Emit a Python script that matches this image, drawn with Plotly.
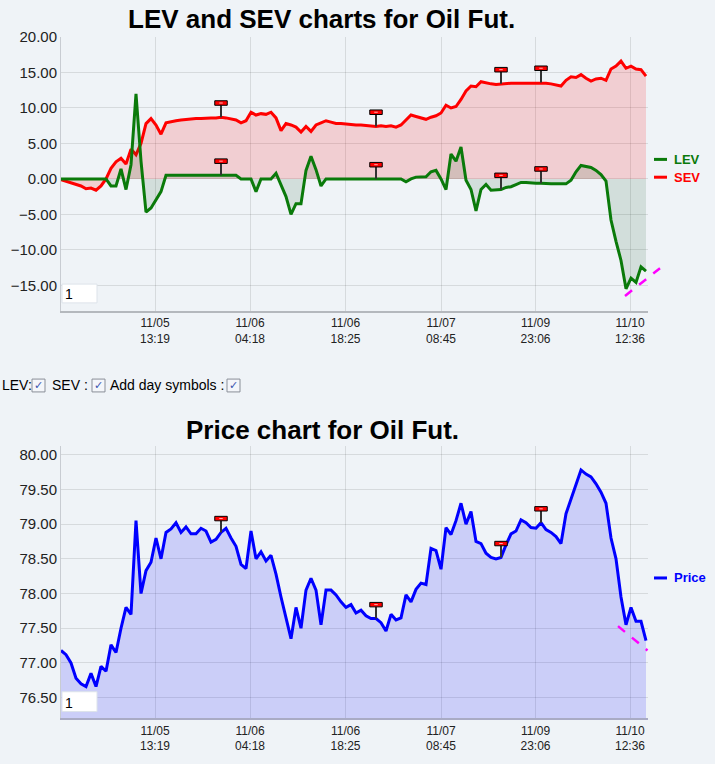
import plotly.graph_objects as go

W, H = 715, 764

# one sample every few minutes of trading, index = sample number
tick_pos = [18.8, 37.8, 56.9, 76.0, 94.9, 113.8]
tick_text = ["11/05<br>13:19", "11/06<br>04:18", "11/06<br>18:25",
             "11/07<br>08:45", "11/09<br>23:06", "11/10<br>12:36"]

sev = [-0.1, -0.3, -0.5, -0.7, -1.0, -1.4, -1.3, -1.6, -1.0, 0.0,
       1.5, 2.4, 2.9, 2.1, 4.2, 3.4, 5.0, 7.8, 8.5, 7.6,
       6.3, 7.9, 8.1, 8.2, 8.3, 8.4, 8.4, 8.5, 8.5, 8.6,
       8.6, 8.6, 8.7, 8.6, 8.5, 8.3, 7.9, 8.2, 9.4, 9.0,
       9.2, 9.1, 9.4, 8.6, 6.8, 7.8, 7.6, 7.3, 6.6, 7.4,
       6.7, 7.6, 7.9, 8.2, 8.0, 7.8, 7.8, 7.7, 7.7, 7.6,
       7.6, 7.5, 7.5, 7.4, 7.5, 7.4, 7.5, 7.3, 7.6, 8.3,
       9.0, 8.8, 8.6, 8.4, 8.7, 8.9, 9.3, 10.4, 10.0, 10.2,
       11.2, 12.4, 13.1, 13.0, 13.7, 13.5, 13.4, 13.3, 13.4, 13.4,
       13.5, 13.5, 13.5, 13.5, 13.5, 13.5, 13.6, 13.5, 13.4, 13.3,
       13.1, 13.9, 14.4, 14.3, 14.7, 14.2, 13.8, 14.1, 14.2, 13.9,
       15.5, 15.9, 16.6, 15.6, 15.9, 15.5, 15.4, 14.5]

lev = [0.0, 0.0, 0.0, 0.0, 0.0, 0.0, 0.0, 0.0, 0.0, 0.0,
       -1.0, -1.0, 1.4, -1.5, 2.0, 12.0, 2.5, -4.7, -4.1, -3.0,
       -1.8, 0.5, 0.5, 0.5, 0.5, 0.5, 0.5, 0.5, 0.5, 0.5,
       0.5, 0.5, 0.5, 0.5, 0.5, 0.5, 0.0, 0.0, 0.0, -1.8,
       0.0, 0.0, 0.0, 0.8, -0.8, -2.5, -5.0, -3.5, -3.5, 1.2,
       3.2, 1.3, -1.0, 0.0, 0.0, 0.0, 0.0, 0.0, 0.0, 0.0,
       0.0, 0.0, 0.0, 0.0, 0.0, 0.0, 0.0, 0.0, 0.0, -0.4,
       0.0, 0.25, 0.3, 0.3, 1.0, 1.2, 0.0, -1.5, 3.5, 2.5,
       4.5, -0.2, -1.5, -4.5, -1.5, -0.8, -1.6, -1.5, -1.5, -1.2,
       -1.1, -0.8, -0.5, -0.5, -0.6, -0.6, -0.6, -0.7, -0.7, -0.7,
       -0.7, -0.7, -0.2, 1.0, 1.9, 1.8, 1.6, 1.2, 0.6, -0.3,
       -5.8, -8.8, -11.5, -15.5, -14.0, -14.6, -12.4, -13.0]

price = [77.18, 77.12, 77.00, 76.78, 76.70, 76.66, 76.85, 76.66, 76.95, 76.88,
         77.26, 77.15, 77.50, 77.80, 77.70, 79.05, 78.00, 78.33, 78.45, 78.80,
         78.50, 78.88, 78.93, 79.02, 78.88, 78.96, 78.86, 78.86, 78.94, 78.90,
         78.74, 78.78, 78.88, 78.94, 78.80, 78.68, 78.42, 78.36, 78.90, 78.50,
         78.60, 78.47, 78.55, 78.28, 77.95, 77.65, 77.35, 77.80, 77.50, 78.05,
         78.22, 78.05, 77.55, 78.05, 78.05, 77.98, 77.88, 77.80, 77.84, 77.72,
         77.76, 77.68, 77.64, 77.64, 77.58, 77.46, 77.70, 77.62, 77.65, 77.98,
         77.88, 78.06, 78.15, 78.13, 78.65, 78.62, 78.35, 78.95, 78.85, 79.05,
         79.30, 79.00, 79.18, 78.75, 78.72, 78.58, 78.52, 78.50, 78.52, 78.70,
         78.86, 78.90, 79.06, 79.02, 78.95, 78.94, 79.02, 78.92, 78.88, 78.82,
         78.72, 79.15, 79.35, 79.58, 79.78, 79.72, 79.68, 79.58, 79.46, 79.30,
         78.80, 78.50, 77.95, 77.55, 77.80, 77.60, 77.60, 77.32]

day_marks = [32, 63, 88, 96]

lev_trend_x = [112.8, 119.8]
lev_trend_y = [-16.5, -12.6]
price_trend_x = [111.4, 117.3]
price_trend_y = [77.53, 77.18]

x = list(range(len(price)))
x_range = [0, 117.4]
top_range = [-18.6, 20.05]
bot_range = [76.2, 80.12]

BG = "#eff3f7"
GRID = "rgba(0,0,0,0.10)"
FONT = "Liberation Sans, Arial, sans-serif"


def px(v):
    return v / W


def py(v):
    return 1 - v / H


fig = go.Figure()

fig.add_trace(go.Scatter(x=x, y=sev, mode="lines", name="SEV",
                         line=dict(color="#ff0000", width=3),
                         fill="tozeroy", fillcolor="rgba(255,0,0,0.15)",
                         xaxis="x", yaxis="y"))
fig.add_trace(go.Scatter(x=x, y=lev, mode="lines", name="LEV",
                         line=dict(color="#0a7a0a", width=3),
                         fill="tozeroy", fillcolor="rgba(0,70,20,0.12)",
                         xaxis="x", yaxis="y"))
fig.add_trace(go.Scatter(x=x, y=price, mode="lines", name="Price",
                         line=dict(color="#0000ff", width=3),
                         fill="tozeroy", fillcolor="rgba(0,0,255,0.15)",
                         xaxis="x2", yaxis="y2"))

shapes = []
annotations = []


def add_flag(xr, yr, i, base, lift, half_h):
    top = base + lift
    shapes.append(dict(type="line", xref=xr, yref=yr, x0=i, x1=i,
                       y0=base, y1=top - half_h,
                       line=dict(color="#333333", width=2)))
    shapes.append(dict(type="rect", xref=xr, yref=yr,
                       x0=i - 1.25, x1=i + 1.25, y0=top - half_h, y1=top + half_h,
                       fillcolor="#ff0000", line=dict(color="#000000", width=1)))
    shapes.append(dict(type="line", xref=xr, yref=yr, x0=i - 0.35, x1=i + 0.35,
                       y0=top, y1=top, line=dict(color="#ffb0b0", width=1)))


for i in day_marks:
    add_flag("x", "y", i, sev[i], 2.0, 0.32)
    add_flag("x", "y", i, lev[i], 2.0, 0.32)
    add_flag("x2", "y2", i, price[i], 0.2, 0.032)


def dom(v, r):
    return (v - r[0]) / (r[1] - r[0])


# dashed trend lines (drawn in domain units so they are not clipped)
shapes.append(dict(type="line", xref="x domain", yref="y domain",
                   x0=dom(lev_trend_x[0], x_range), x1=dom(lev_trend_x[1], x_range),
                   y0=dom(lev_trend_y[0], top_range), y1=dom(lev_trend_y[1], top_range),
                   line=dict(color="#ff00ff", width=2.5, dash="dash")))
shapes.append(dict(type="line", xref="x2 domain", yref="y2 domain",
                   x0=dom(price_trend_x[0], x_range), x1=dom(price_trend_x[1], x_range),
                   y0=dom(price_trend_y[0], bot_range), y1=dom(price_trend_y[1], bot_range),
                   line=dict(color="#ff00ff", width=2.5, dash="dash")))

# little "1" input boxes
for y0, y1 in [(279, 298), (691, 711)]:
    shapes.append(dict(type="rect", xref="paper", yref="paper",
                       x0=px(62), x1=px(97), y0=py(y1), y1=py(y0),
                       fillcolor="white", line=dict(color="#dde3ea", width=1)))
    annotations.append(dict(text="1", xref="paper", yref="paper", x=px(63), y=py((y0 + y1) / 2 + 1),
                            xanchor="left", yanchor="middle", showarrow=False,
                            font=dict(family=FONT, size=14, color="#000000")))

# legends
for label, color, ly in [("LEV", "#0a7a0a", 153), ("SEV", "#ff0000", 171), ("Price", "#0000ff", 576)]:
    shapes.append(dict(type="line", xref="paper", yref="paper",
                       x0=px(654), x1=px(667), y0=py(ly), y1=py(ly),
                       line=dict(color=color, width=3)))
    annotations.append(dict(text="<b>%s</b>" % label, xref="paper", yref="paper",
                            x=px(672), y=py(ly), xanchor="left", yanchor="middle",
                            showarrow=False, font=dict(family=FONT, size=13, color=color)))

# titles
annotations.append(dict(text="<b>LEV and SEV charts for Oil Fut.</b>", xref="paper", yref="paper",
                        x=px(321), y=py(11), xanchor="center", yanchor="middle", showarrow=False,
                        font=dict(family=FONT, size=26, color="#000000")))
annotations.append(dict(text="<b>Price chart for Oil Fut.</b>", xref="paper", yref="paper",
                        x=px(322), y=py(426), xanchor="center", yanchor="middle", showarrow=False,
                        font=dict(family=FONT, size=26, color="#000000")))

# checkbox row
for label, lx in [("LEV:", 0), ("SEV :", 50), ("Add day symbols :", 108)]:
    annotations.append(dict(text=label, xref="paper", yref="paper", x=px(lx), y=py(381),
                            xanchor="left", yanchor="middle", showarrow=False,
                            font=dict(family=FONT, size=14, color="#000000")))
for bx in [32, 92, 227]:
    shapes.append(dict(type="rect", xref="paper", yref="paper",
                       x0=px(bx), x1=px(bx + 13), y0=py(388), y1=py(375),
                       fillcolor="#f4f6fa", line=dict(color="#8a8f98", width=1)))
    annotations.append(dict(text="✓", xref="paper", yref="paper", x=px(bx + 6.5), y=py(381.5),
                            xanchor="center", yanchor="middle", showarrow=False,
                            font=dict(family="DejaVu Sans", size=11, color="#3a55b0")))

axis_common = dict(showgrid=True, gridcolor=GRID, gridwidth=1, zeroline=False,
                   ticks="", ticklen=0, showline=True)

fig.update_layout(
    width=W, height=H,
    margin=dict(l=0, r=0, t=0, b=0),
    paper_bgcolor=BG, plot_bgcolor=BG,
    showlegend=False,
    font=dict(family=FONT, color="#222222"),
    xaxis=dict(domain=[px(61), px(648)], range=x_range, anchor="y",
               tickvals=tick_pos, ticktext=tick_text, tickfont=dict(size=12),
               linecolor="#b4b8bd", linewidth=2, **axis_common),
    yaxis=dict(domain=[py(306), py(29)], range=top_range, anchor="x",
               dtick=5, tickformat=".2f", tickfont=dict(size=15),
               linecolor="#c8ccd2", linewidth=1, **axis_common),
    xaxis2=dict(domain=[px(61), px(648)], range=x_range, anchor="y2",
                tickvals=tick_pos, ticktext=tick_text, tickfont=dict(size=12),
                linecolor="#a9abc4", linewidth=2, **axis_common),
    yaxis2=dict(domain=[py(718), py(443)], range=bot_range, anchor="x2",
                dtick=0.5, tickformat=".2f", tickfont=dict(size=15),
                linecolor="#c8ccd2", linewidth=1, **axis_common),
    shapes=shapes,
    annotations=annotations,
)

# the page is a fixed-size chart, so drop the browser's default body margin
fig.write_html("out.html", config={"displayModeBar": False},
               post_script="document.body.style.margin='0';document.body.style.background='%s';" % BG)
